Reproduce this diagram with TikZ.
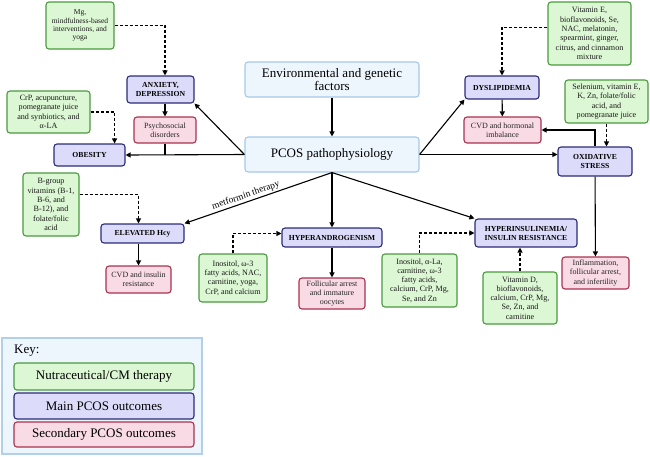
\documentclass[tikz,border=0pt]{standalone}
\usepackage{fontspec}
\setmainfont{Liberation Serif}
\usetikzlibrary{arrows.meta,calc}
\definecolor{thfill}{HTML}{DCF7D3}
\definecolor{thdraw}{HTML}{4A9A3F}
\definecolor{mofill}{HTML}{DCDCFA}
\definecolor{modraw}{HTML}{2B2B7A}
\definecolor{sofill}{HTML}{F9DBE5}
\definecolor{sodraw}{HTML}{A8324F}
\definecolor{cofill}{HTML}{EEF6FD}
\definecolor{codraw}{HTML}{A6C8E8}
\tikzset{
  box/.style={rounded corners=3pt, line width=1.1pt, align=center, inner sep=1pt},
  therapy/.style={box, draw=thdraw, fill=thfill, text=black!90, font=\fontsize{8.1}{9.3}\selectfont},
  mainout/.style={box, draw=modraw, fill=mofill, font=\bfseries\fontsize{7.7}{9}\selectfont},
  secout/.style={box, draw=sodraw, fill=sofill, text=black!85, font=\fontsize{8}{9.3}\selectfont},
  core/.style={box, draw=codraw, fill=cofill, font=\fontsize{13}{13.5}\selectfont},
  keyitem/.style={minimum width=180, font=\fontsize{13}{14}\selectfont, text=black},
  link/.style={line width=1.1pt, -{Triangle[length=5pt,width=5pt]}},
  plainlink/.style={line width=1.1pt},
  hint/.style={link, dash pattern=on 3pt off 2pt},
}
\begin{document}
\begin{tikzpicture}[x=1pt,y=-1pt]
  \useasboundingbox (0,0) rectangle (650,456);
  \node[core, minimum width=174, minimum height=35] (env)  at (332,79.5)  {Environmental and genetic\\factors};
  \node[core, minimum width=174, minimum height=35] (pcos) at (332,154.5) {PCOS pathophysiology};

  \node[therapy, minimum width=68, minimum height=47, font=\fontsize{7.5}{8.2}\selectfont] (mg) at (80,25.5) {Mg,\\mindfulness-based\\interventions, and\\yoga};
  \node[mainout, minimum width=67, minimum height=27] (anxiety) at (160.5,89.5) {ANXIETY,\\DEPRESSION};
  \node[secout,  minimum width=62, minimum height=26] (psycho)  at (165,130)    {Psychosocial\\disorders};
  \node[therapy, minimum width=83, minimum height=42] (crp)     at (48.5,112)   {CrP, acupuncture,\\pomegranate juice\\and synbiotics, and\\α-LA};
  \node[mainout, minimum width=71, minimum height=22] (obesity) at (89.5,155)   {OBESITY};
  \node[therapy, minimum width=56, minimum height=63] (bgroup)  at (51,204.5)   {B-group\\vitamins (B-1,\\B-6, and\\B-12), and\\folate/folic\\acid};
  \node[mainout, minimum width=83, minimum height=19] (elev)    at (142.5,233.5) {ELEVATED Hcy};
  \node[secout,  minimum width=65, minimum height=27] (cvdi)    at (138.5,279.5) {CVD and insulin\\resistance};
  \node[therapy, minimum width=68, minimum height=48] (inosA)   at (233,278)    {Inositol, ω-3\\fatty acids, NAC,\\carnitine, yoga,\\CrP, and calcium};
  \node[mainout, minimum width=100, minimum height=19] (andro)  at (332,237.5)  {HYPERANDROGENISM};
  \node[secout,  minimum width=66, minimum height=31] (follic)  at (332,293.5)  {Follicular arrest\\and immature\\oocytes};
  \node[therapy, minimum width=75, minimum height=53] (inosB)   at (419.5,280.5) {Inositol, α-La,\\carnitine, ω-3\\fatty acids,\\calcium, CrP, Mg,\\Se, and Zn};
  \node[mainout, minimum width=102, minimum height=28] (insulin) at (526,233)   {HYPERINSULINEMIA/\\INSULIN RESISTANCE};
  \node[therapy, minimum width=74, minimum height=52] (vitd)    at (520,298)    {Vitamin D,\\bioflavonoids,\\calcium, CrP, Mg,\\Se, Zn, and\\carnitine};
  \node[secout,  minimum width=67, minimum height=32] (inflam)  at (595.5,273)  {Inflammation,\\follicular arrest,\\and infertility};
  \node[mainout, minimum width=74, minimum height=29] (oxid)    at (595,161.5)  {OXIDATIVE\\STRESS};
  \node[therapy, minimum width=83, minimum height=43] (selen)   at (606.5,101.5) {Selenium, vitamin E,\\K, Zn, folate/folic\\acid, and\\pomegranate juice};
  \node[mainout, minimum width=74, minimum height=23] (dysl)    at (502,87.5)   {DYSLIPIDEMIA};
  \node[secout,  minimum width=77, minimum height=26] (cvdh)    at (502.5,130)  {CVD and hormonal\\imbalance};
  \node[therapy, minimum width=83, minimum height=63] (vite)    at (589.5,33.5) {Vitamin E,\\bioflavonoids, Se,\\NAC, melatonin,\\spearmint, ginger,\\citrus, and cinnamon\\mixture};

  \draw[link] (env) -- (pcos);
  \draw[link] (pcos.west) -- (anxiety.south east);
  \draw[link] (pcos.west) -- (obesity.east);
  \draw[plainlink] (psycho.south) -- (psycho.south |- pcos.west);
  \draw[link] (anxiety.south -| psycho.north) -- (psycho.north);
  \draw[hint] (mg.east) -| (psycho.north |- anxiety.north);
  \draw[hint] (crp.east) -| ($(obesity.north east)+(-11,0)$);
  \draw[{Triangle[length=5pt,width=5pt]}-, line width=1.1pt] (elev.north east) -- node[sloped, above, pos=0.43, inner sep=1.5pt, font=\fontsize{9.5}{11}\selectfont] {metformin therapy} (pcos.south);
  \draw[hint] ([yshift=10pt]bgroup.east) -| (cvdi.north |- elev.north);
  \draw[link] (elev.south -| cvdi.north) -- (cvdi.north);
  \draw[link] (pcos.south) -- (andro.north);
  \draw[link] (andro) -- (follic);
  \draw[hint] (inosA.north) |- ([yshift=4pt]andro.west);
  \draw[link] (pcos.south) -- (insulin.north west);
  \draw[hint] (inosB.north) |- (insulin.west);
  \draw[hint] (vitd.north) -- (vitd.north |- insulin.south);
  \draw[link] (pcos.east) -- (dysl.south west);
  \draw[link] (dysl) -- (cvdh);
  \draw[hint] ([yshift=6pt]vite.west) -| (dysl.north);
  \draw[link] (pcos.east) -- (oxid.west |- pcos.east);
  \draw[hint] (selen.south) -- (selen.south |- oxid.north);
  \draw[link] (oxid.north) |- (cvdh.east);
  \draw[link] (oxid) -- (inflam);

  \node[draw=codraw!85, fill=cofill, line width=1.1pt, minimum width=200, minimum height=116] (key) at (102,396) {};
  \node[anchor=west, font=\fontsize{13}{14}\selectfont, inner sep=0pt] (keytitle) at (14,351) {Key:};
  \node[therapy, keyitem, minimum height=27] (ktherapy) at (104,376.5) {Nutraceutical/CM therapy};
  \node[mainout, keyitem, minimum height=26, font=\fontsize{13}{14}\selectfont] (kmain) at (104,406) {Main PCOS outcomes};
  \node[secout,  keyitem, minimum height=25] (ksec) at (104,434.5) {Secondary PCOS outcomes};
\end{tikzpicture}
\end{document}
